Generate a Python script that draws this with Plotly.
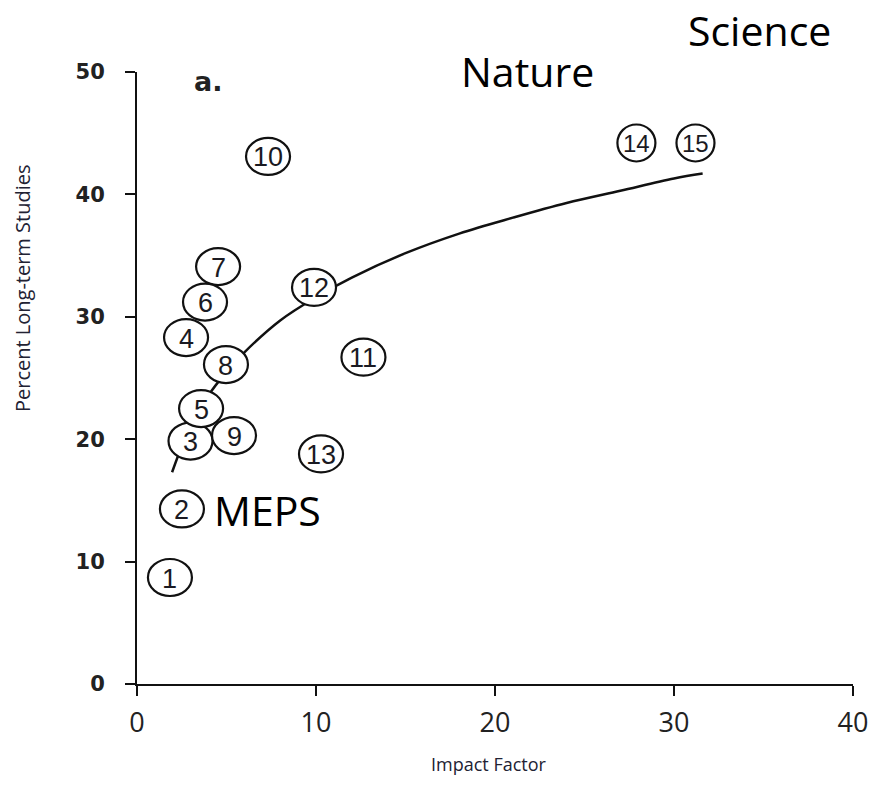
import plotly.graph_objects as go

# ---- data ----
journal_ids = ["1", "2", "3", "4", "5", "6", "7", "8", "9", "10", "11", "12", "13", "14", "15"]
impact_factor = [1.84, 2.51, 2.99, 2.74, 3.58, 3.80, 4.53, 4.97, 5.42, 7.32, 12.65, 9.89, 10.28, 27.9, 31.2]
pct_long_term = [8.7, 14.3, 19.85, 28.3, 22.5, 31.2, 34.1, 26.1, 20.3, 43.1, 26.7, 32.4, 18.8, 44.2, 44.2]

# trend curve
trend_x = [1.96, 2.5, 3, 4, 5, 6, 8, 10, 12, 15, 18, 21, 24, 27, 30, 31.6]
trend_y = [17.3, 19.4, 21.0, 23.6, 25.5, 27.1, 29.7, 31.6, 33.2, 35.2, 36.8, 38.1, 39.3, 40.3, 41.3, 41.7]

x_ticks = [0, 10, 20, 30, 40]
y_ticks = [0, 10, 20, 30, 40, 50]

# drawing order of the circles (later = on top)
draw_order = [0, 1, 2, 3, 6, 4, 5, 7, 8, 9, 10, 11, 12, 13, 14]

fig = go.Figure()
fig.add_trace(go.Scatter(x=trend_x, y=trend_y, mode="lines",
                         line=dict(color="#111111", width=2.5, shape="spline"),
                         hoverinfo="skip", showlegend=False))

shapes = []
annotations = []
for i in draw_order:
    w = 19 if i >= 13 else 22
    shapes.append(dict(type="circle", xref="x", yref="y",
                       xsizemode="pixel", ysizemode="pixel",
                       xanchor=impact_factor[i], yanchor=pct_long_term[i],
                       x0=-w, x1=w, y0=-18.5, y1=18.5,
                       fillcolor="white", line=dict(color="#111111", width=2.2),
                       layer="above"))
for i in range(len(journal_ids)):
    fs = 24 if i >= 13 else 27
    annotations.append(dict(x=impact_factor[i], y=pct_long_term[i], xref="x", yref="y",
                            text=journal_ids[i], showarrow=False,
                            font=dict(family="Liberation Sans, Arial", size=fs, color="#1a1a22"),
                            xanchor="center", yanchor="middle", yshift=-1))

label_font = dict(family="Open Sans", size=41, color="#000000")
annotations += [
    dict(x=0.546, y=1.0016, xref="paper", yref="paper", text="Nature", showarrow=False,
         font=label_font, xanchor="center", yanchor="middle"),
    dict(x=0.870, y=1.0686, xref="paper", yref="paper", text="Science", showarrow=False,
         font=label_font, xanchor="center", yanchor="middle"),
    dict(x=0.1817, y=0.284, xref="paper", yref="paper", text="MEPS", showarrow=False,
         font=label_font, xanchor="center", yanchor="middle"),
    dict(x=3.97, y=49.2, xref="x", yref="y", text="<b>a.</b>", showarrow=False,
         font=dict(family="DejaVu Sans", size=27, color="#222222"),
         xanchor="center", yanchor="middle"),
    dict(x=-0.1606, y=0.647, xref="paper", yref="paper", text="Percent Long-term Studies",
         showarrow=False, textangle=-90, xanchor="center", yanchor="middle",
         font=dict(family="Open Sans", size=20, color="#222233")),
    dict(x=0.4916, y=-0.1307, xref="paper", yref="paper", text="Impact Factor",
         showarrow=False, xanchor="center", yanchor="middle",
         font=dict(family="Open Sans", size=18, color="#222233")),
]

fig.update_layout(
    template="none",
    width=871, height=789,
    margin=dict(l=137, r=18, t=72, b=105, pad=0),
    paper_bgcolor="white", plot_bgcolor="white",
    shapes=shapes, annotations=annotations,
    xaxis=dict(range=[0, 40], tickvals=x_ticks, ticktext=[str(v) for v in x_ticks],
               automargin=False,
               showgrid=False, zeroline=False, showline=True, linecolor="#111111", linewidth=2,
               ticks="outside", ticklen=10, tickwidth=2, tickcolor="#111111",
               tickfont=dict(family="Open Sans", size=27, color="#222222"),
               ticklabelstandoff=4),
    yaxis=dict(range=[0, 50], tickvals=y_ticks, ticktext=[str(v) for v in y_ticks],
               automargin=False,
               showgrid=False, zeroline=False, showline=True, linecolor="#111111", linewidth=2,
               ticks="outside", ticklen=10, tickwidth=2, tickcolor="#111111",
               tickfont=dict(family="DejaVu Sans", size=21, color="#222222", weight="bold"),
               ticklabelstandoff=16),
)

fig.write_html("out.html")
